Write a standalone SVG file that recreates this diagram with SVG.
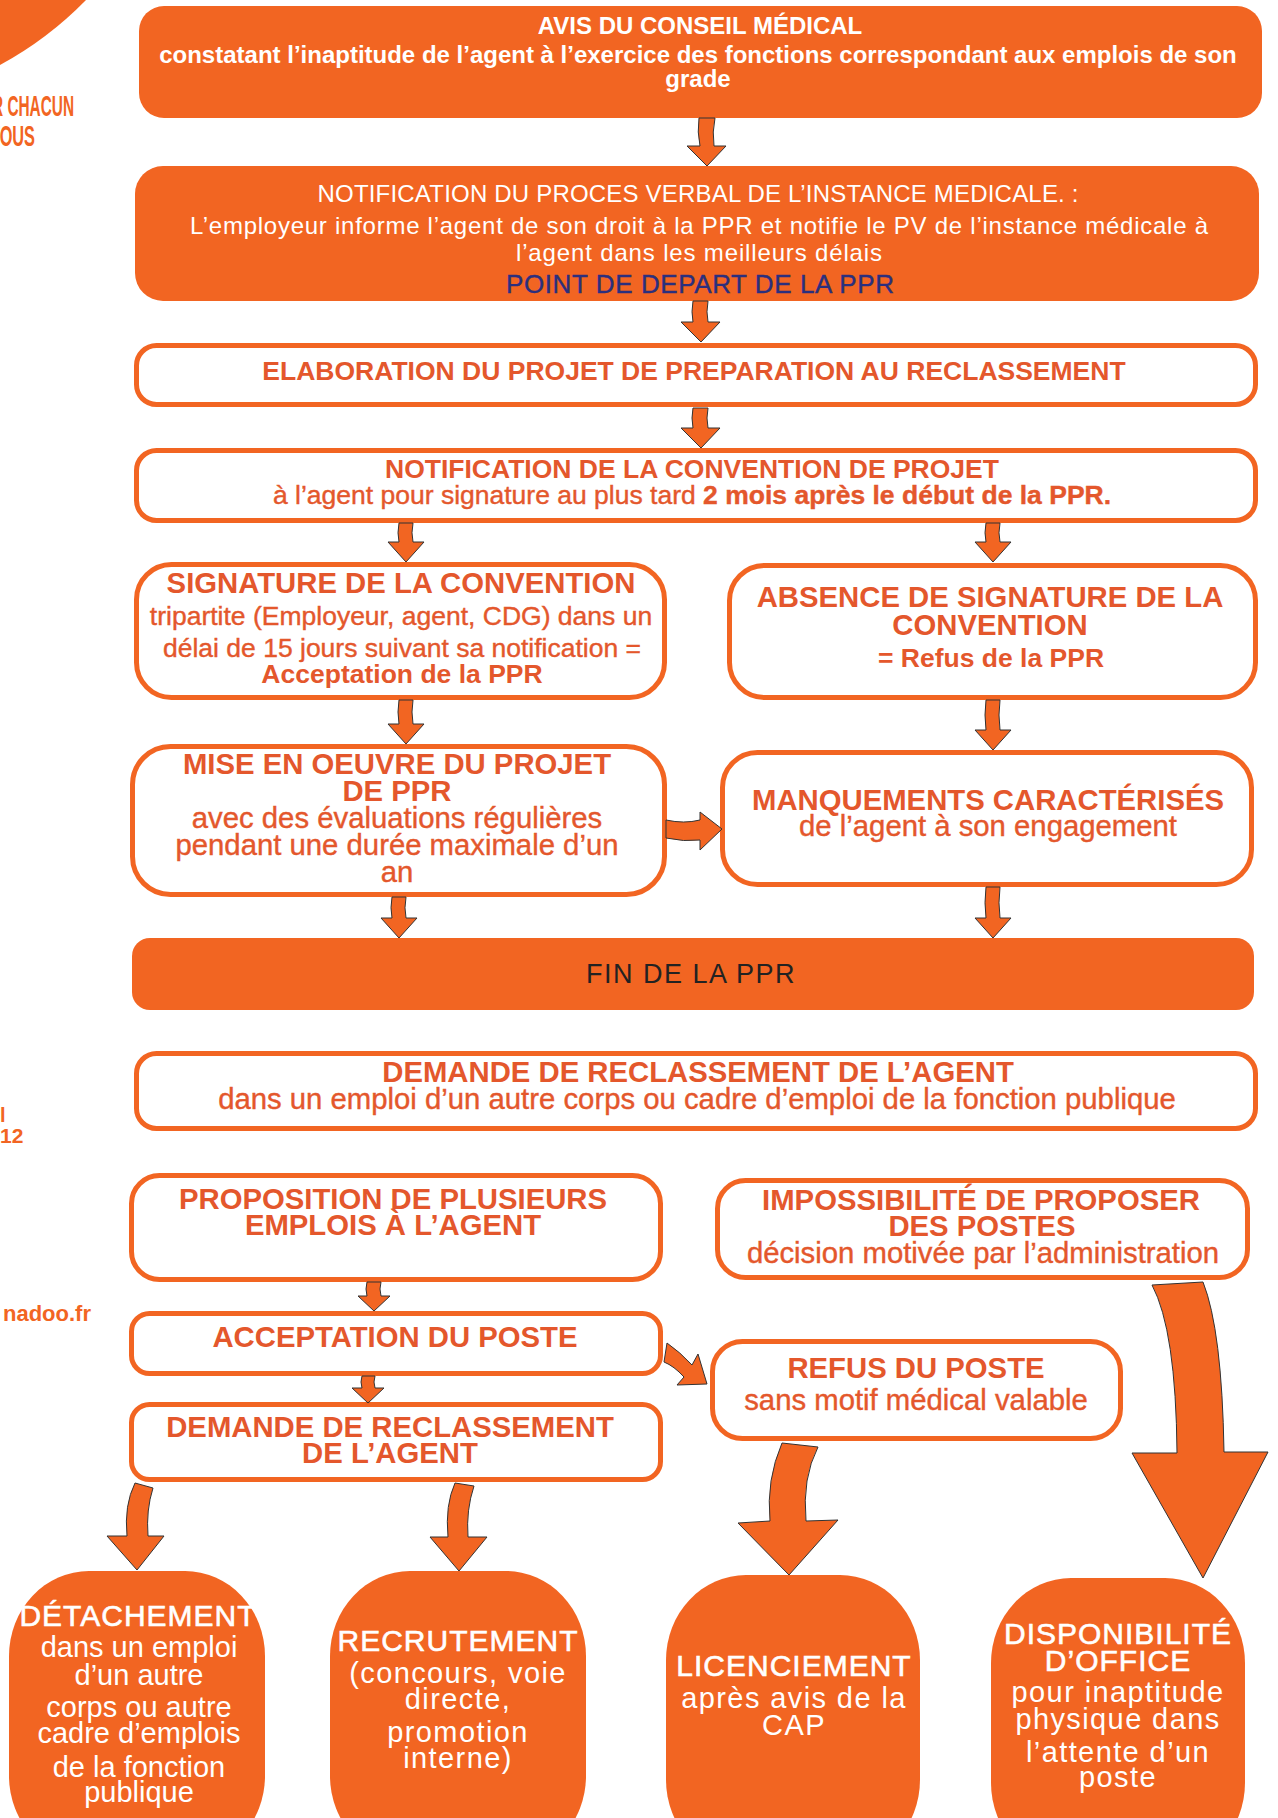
<svg xmlns="http://www.w3.org/2000/svg" width="1278" height="1818" viewBox="0 0 1278 1818">
<defs>
<style>
.fill{fill:#f26522}
.box{fill:#ffffff;stroke:#f26522;stroke-width:5}
.t{font-family:'Liberation Sans',Arial,Helvetica,sans-serif;text-anchor:middle}
.h{font-weight:bold;font-size:26.5px;fill:#e4572c}
.b{font-weight:normal;font-size:26.5px;fill:#e4572c;stroke:#e4572c;stroke-width:0.4}
.H{font-weight:bold;font-size:29.3px;fill:#e4572c}
.B{font-weight:normal;font-size:29.3px;fill:#e4572c;stroke:#e4572c;stroke-width:0.4}
.w1{font-weight:bold;font-size:24px;fill:#ffffff}
.w2{font-weight:normal;font-size:24px;fill:#ffffff}
.navy{font-weight:normal;font-size:26px;fill:#2b2f7e;stroke:#2b2f7e;stroke-width:0.4}
.fin{font-weight:normal;font-size:27px;fill:#222222;letter-spacing:1.5px}
.bh{font-weight:normal;font-size:30px;fill:#ffffff;letter-spacing:1px;stroke:#ffffff;stroke-width:0.6}
.bb{font-weight:normal;font-size:29px;fill:#ffffff}
.bs{letter-spacing:1.4px}
.side{font-family:'Liberation Sans',Arial,sans-serif;font-weight:bold;fill:#f26522}
.arr{fill:#f26522;stroke:#333333;stroke-width:1;stroke-linejoin:miter}
</style>
</defs>
<rect width="1278" height="1818" fill="#ffffff"/>

<g id="margin">
<path class="fill" d="M0,0 L86,0 A360,360 0 0 1 0,65 Z"/>
<text class="side" x="-8" y="116" font-size="30" textLength="82" lengthAdjust="spacingAndGlyphs">R CHACUN</text>
<text class="side" x="-10" y="146" font-size="30" textLength="45" lengthAdjust="spacingAndGlyphs">TOUS</text>
<text class="side" x="0" y="1122" font-size="20">l</text>
<text class="side" x="0" y="1143" font-size="21">12</text>
<text class="side" x="91" y="1321" font-size="22" text-anchor="end">nadoo.fr</text>
</g>

<g id="n1">
<rect class="fill" x="139" y="6" width="1123" height="112" rx="25"/>
<text class="t w1" x="700" y="34">AVIS DU CONSEIL MÉDICAL</text>
<text class="t w1" x="698" y="63">constatant l’inaptitude de l’agent à l’exercice des fonctions correspondant aux emplois de son</text>
<text class="t w1" x="698" y="87">grade</text>
</g>

<g id="n2">
<rect class="fill" x="135" y="166" width="1124" height="135" rx="28"/>
<text class="t w2" x="698" y="202" textLength="761" lengthAdjust="spacing">NOTIFICATION DU PROCES VERBAL DE L’INSTANCE MEDICALE. :</text>
<text class="t w2" x="699" y="234" textLength="1018" lengthAdjust="spacing">L’employeur informe l’agent de son droit à la PPR et notifie le PV de l’instance médicale à</text>
<text class="t w2" x="699" y="261" textLength="366" lengthAdjust="spacing">l’agent dans les meilleurs délais</text>
<text class="t navy" x="700" y="293" textLength="388" lengthAdjust="spacing">POINT DE DEPART DE LA PPR</text>
</g>

<g id="n3">
<rect class="box" x="136.5" y="345.5" width="1119" height="59" rx="20"/>
<text class="t h" x="694" y="380">ELABORATION DU PROJET DE PREPARATION AU RECLASSEMENT</text>
</g>

<g id="n4">
<rect class="box" x="136.5" y="450.5" width="1119" height="70" rx="20"/>
<text class="t h" x="692" y="478">NOTIFICATION DE LA CONVENTION DE PROJET</text>
<text class="t b" x="692" y="504">à l’agent pour signature au plus tard <tspan font-weight="bold">2 mois après le début de la PPR.</tspan></text>
</g>

<g id="n5">
<rect class="box" x="136.5" y="564.5" width="528" height="133" rx="35"/>
<text class="t H" x="401" y="593">SIGNATURE DE LA CONVENTION</text>
<text class="t b" x="401" y="625">tripartite (Employeur, agent, CDG) dans un</text>
<text class="t b" x="402" y="657">délai de 15 jours suivant sa notification =</text>
<text class="t h" x="402" y="683">Acceptation de la PPR</text>
</g>

<g id="n6">
<rect class="box" x="729.5" y="565.5" width="526" height="132" rx="35"/>
<text class="t H" x="990" y="607">ABSENCE DE SIGNATURE DE LA</text>
<text class="t H" x="990" y="635">CONVENTION</text>
<text class="t h" x="991" y="667">= Refus de la PPR</text>
</g>

<g id="n7">
<rect class="box" x="132.5" y="746.5" width="532" height="148" rx="38"/>
<text class="t H" x="397" y="774">MISE EN OEUVRE DU PROJET</text>
<text class="t H" x="397" y="801">DE PPR</text>
<text class="t B" x="397" y="828">avec des évaluations régulières</text>
<text class="t B" x="397" y="855">pendant une durée maximale d’un</text>
<text class="t B" x="397" y="882">an</text>
</g>

<g id="n8">
<rect class="box" x="722.5" y="752.5" width="529" height="132" rx="35"/>
<text class="t H" x="988" y="810">MANQUEMENTS CARACTÉRISÉS</text>
<text class="t B" x="988" y="836">de l’agent à son engagement</text>
</g>

<g id="n9">
<rect class="fill" x="132" y="938" width="1122" height="72" rx="18"/>
<text class="t fin" x="691" y="983">FIN DE LA PPR</text>
</g>

<g id="n10">
<rect class="box" x="136.5" y="1053.5" width="1119" height="75" rx="20"/>
<text class="t H" x="698" y="1082">DEMANDE DE RECLASSEMENT DE L’AGENT</text>
<text class="t B" x="697" y="1109">dans un emploi d’un autre corps ou cadre d’emploi de la fonction publique</text>
</g>

<g id="n11">
<rect class="box" x="131.5" y="1175.5" width="529" height="104" rx="28"/>
<text class="t H" x="393" y="1209">PROPOSITION DE PLUSIEURS</text>
<text class="t H" x="393" y="1235">EMPLOIS À L’AGENT</text>
</g>

<g id="n12">
<rect class="box" x="717.5" y="1180.5" width="530" height="97" rx="28"/>
<text class="t H" x="981" y="1210">IMPOSSIBILITÉ DE PROPOSER</text>
<text class="t H" x="982" y="1236">DES POSTES</text>
<text class="t B" x="983" y="1263">décision motivée par l’administration</text>
</g>

<g id="n13">
<rect class="box" x="131.5" y="1313.5" width="529" height="60" rx="18"/>
<text class="t H" x="395" y="1347">ACCEPTATION DU POSTE</text>
</g>

<g id="n14">
<rect class="box" x="131.5" y="1404.5" width="529" height="75" rx="18"/>
<text class="t H" x="390" y="1437">DEMANDE DE RECLASSEMENT</text>
<text class="t H" x="390" y="1463">DE L’AGENT</text>
</g>

<g id="n15">
<rect class="box" x="712.5" y="1341.5" width="408" height="97" rx="30"/>
<text class="t H" x="916" y="1378">REFUS DU POSTE</text>
<text class="t B" x="916" y="1410">sans motif médical valable</text>
</g>

<g id="n16">
<rect class="fill" x="9" y="1571" width="256" height="290" rx="80" ry="85"/>
<text class="t bh" x="138" y="1626">DÉTACHEMENT</text>
<text class="t bb" x="139" y="1657">dans un emploi</text>
<text class="t bb" x="139" y="1685">d’un autre</text>
<text class="t bb" x="139" y="1717">corps ou autre</text>
<text class="t bb" x="139" y="1743">cadre d’emplois</text>
<text class="t bb" x="139" y="1777">de la fonction</text>
<text class="t bb" x="139" y="1802">publique</text>
</g>

<g id="n17">
<rect class="fill" x="330" y="1571" width="256" height="290" rx="80" ry="85"/>
<text class="t bh" x="458" y="1651">RECRUTEMENT</text>
<text class="t bb bs" x="458" y="1683">(concours, voie</text>
<text class="t bb bs" x="458" y="1709">directe,</text>
<text class="t bb bs" x="458" y="1742">promotion</text>
<text class="t bb bs" x="458" y="1768">interne)</text>
</g>

<g id="n18">
<rect class="fill" x="666" y="1575" width="254" height="290" rx="80" ry="85"/>
<text class="t bh" x="794" y="1676">LICENCIEMENT</text>
<text class="t bb bs" x="794" y="1708">après avis de la</text>
<text class="t bb bs" x="794" y="1735">CAP</text>
</g>

<g id="n19">
<rect class="fill" x="991" y="1578" width="254" height="290" rx="80" ry="85"/>
<text class="t bh" x="1118" y="1644">DISPONIBILITÉ</text>
<text class="t bh" x="1118" y="1671">D’OFFICE</text>
<text class="t bb bs" x="1118" y="1702">pour inaptitude</text>
<text class="t bb bs" x="1118" y="1729">physique dans</text>
<text class="t bb bs" x="1118" y="1762">l’attente d’un</text>
<text class="t bb bs" x="1118" y="1787">poste</text>
</g>

<g id="connectors">
<path class="arr" d="M699,118 Q697,132 700,146 L687,146 L707,166 L726,146 L714,146 Q712,132 715,118 Z"/>
<path class="arr" d="M693,301 Q691,312 693,322 L681,322 L701,342 L720,322 L708,322 Q706,312 708,301 Z"/>
<path class="arr" d="M693,408 Q691,418 693,428 L681,428 L701,448 L720,428 L708,428 Q706,418 708,408 Z"/>
<path class="arr" d="M399,523 Q397,533 399,542 L388,542 L406,562 L424,542 L413,542 Q411,533 413,523 Z"/>
<path class="arr" d="M986,523 Q984,533 986,542 L975,542 L993,562 L1011,542 L1000,542 Q998,533 1000,523 Z"/>
<path class="arr" d="M399,700 Q397,712 399,724 L388,724 L406,744 L424,724 L413,724 Q411,712 413,700 Z"/>
<path class="arr" d="M986,700 Q984,715 986,730 L975,730 L993,750 L1011,730 L1000,730 Q998,715 1000,700 Z"/>
<path class="arr" d="M392,897 Q390,908 392,918 L381,918 L399,938 L417,918 L406,918 Q404,908 406,897 Z"/>
<path class="arr" d="M986,887 Q984,903 986,918 L975,918 L993,938 L1011,918 L1000,918 Q998,903 1000,887 Z"/>
<path class="arr" d="M666,820 Q684,824 700,820 L700,812 L722,829 L700,850 L700,840 Q684,842 666,838 Z"/>
<path class="arr" d="M367,1282 Q365,1289 367,1296 L358,1296 L374,1311 L390,1296 L381,1296 Q379,1289 381,1282 Z"/>
<path class="arr" d="M362,1376 Q360,1382 362,1388 L352,1388 L368,1403 L384,1388 L375,1388 Q373,1382 375,1376 Z"/>
<path class="arr" d="M667,1343 Q680,1352 692,1365 L698,1354 L707,1384 L677,1385 L684,1377 Q674,1366 664,1362 Z"/>
<path class="arr" d="M1152,1285 Q1176,1330 1177,1453 L1132,1453 L1203,1578 L1268,1452 L1224,1452 Q1222,1330 1203,1282 Z"/>
<path class="arr" d="M782,1443 Q766,1480 770,1521 L738,1523 L789,1575 L838,1520 L806,1521 Q802,1478 818,1447 Z"/>
<path class="arr" d="M135,1483 Q124,1505 127,1536 L107,1536 L137,1570 L164,1536 L148,1536 Q146,1510 153,1488 Z"/>
<path class="arr" d="M455,1483 Q445,1505 448,1537 L430,1537 L459,1571 L487,1537 L468,1537 Q466,1510 474,1486 Z"/>
</g>
</svg>
